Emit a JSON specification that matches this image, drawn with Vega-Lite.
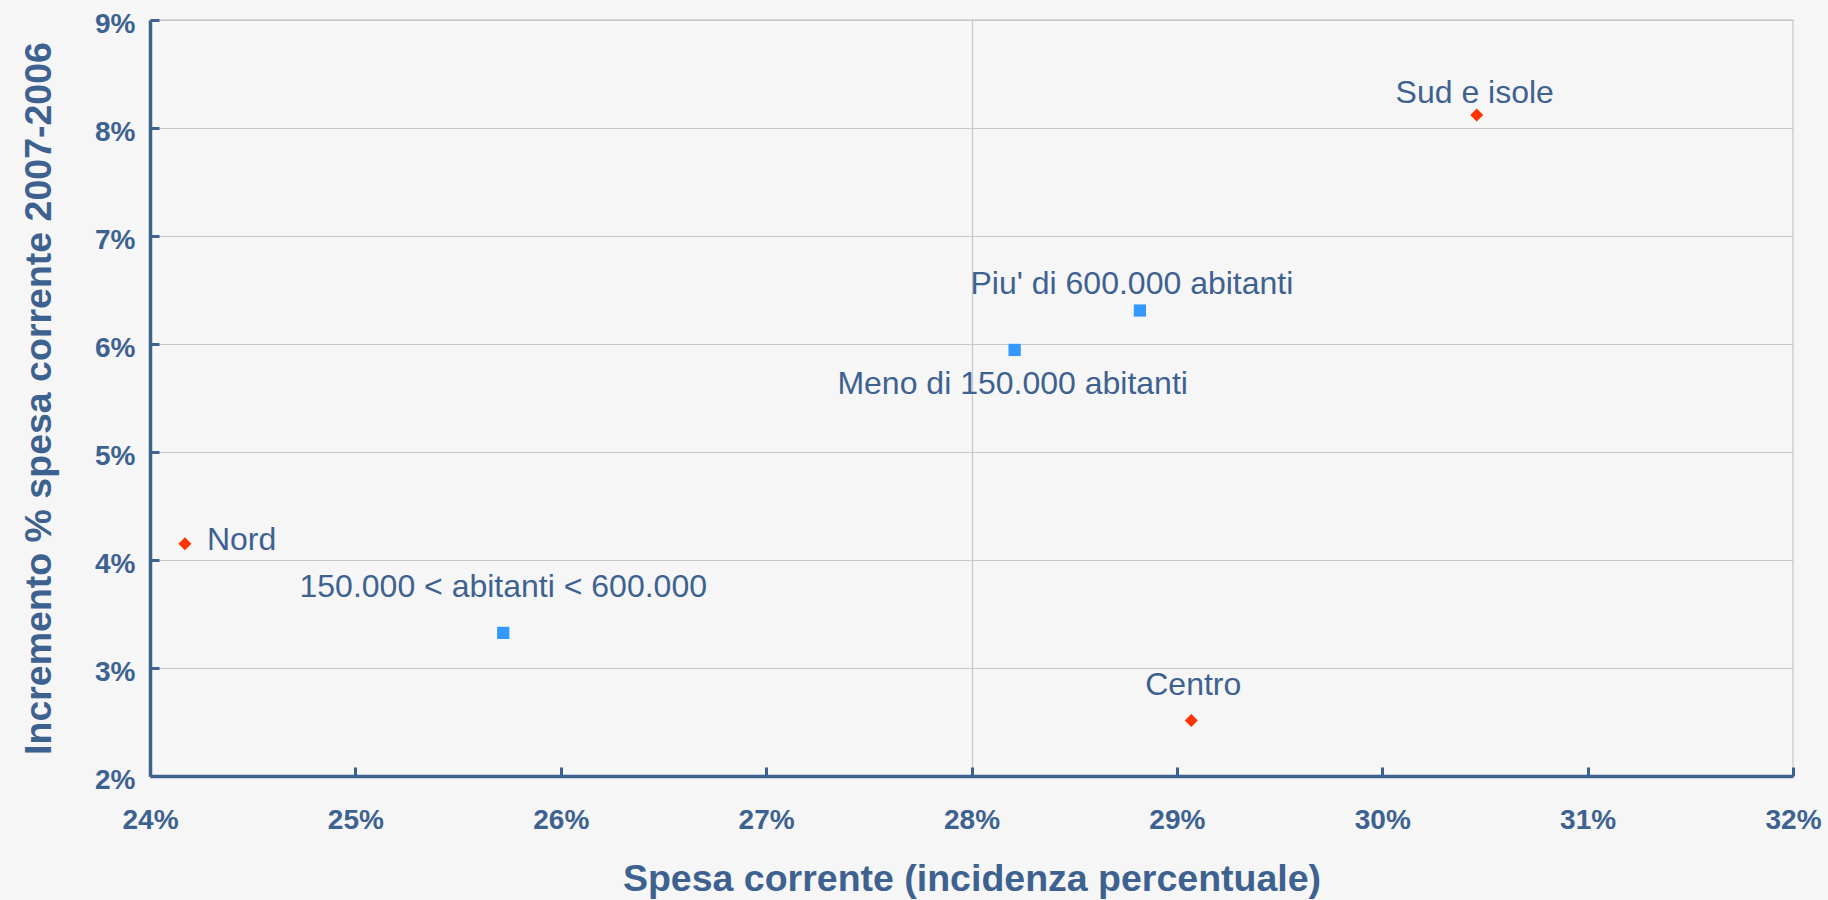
{
  "$schema": "https://vega.github.io/schema/vega-lite/v6.json",
  "width": 1643,
  "height": 756,
  "autosize": {"type": "none"},
  "padding": {"left": 150, "top": 20, "right": 35, "bottom": 124},
  "background": "#f6f6f6",
  "config": {
    "view": {"stroke": "#cfcfcf", "strokeWidth": 1.5},
    "font": "Liberation Sans"
  },
  "data": {
    "values": [
      {"name": "Nord", "spesa": 24.17, "incremento": 4.15, "gruppo": "Area"},
      {"name": "Centro", "spesa": 29.07, "incremento": 2.515, "gruppo": "Area"},
      {"name": "Sud e isole", "spesa": 30.46, "incremento": 8.12, "gruppo": "Area"},
      {"name": "150.000 < abitanti < 600.000", "spesa": 25.72, "incremento": 3.325, "gruppo": "Dimensione"},
      {"name": "Piu' di  600.000 abitanti", "spesa": 28.82, "incremento": 6.31, "gruppo": "Dimensione"},
      {"name": "Meno di 150.000 abitanti", "spesa": 28.21, "incremento": 5.945, "gruppo": "Dimensione"}
    ]
  },
  "encoding": {
    "x": {
      "field": "spesa",
      "type": "quantitative",
      "scale": {"domain": [24, 32], "nice": false, "zero": false},
      "axis": {
        "values": [24, 25, 26, 27, 28, 29, 30, 31, 32],
        "labelExpr": "datum.value + '%'",
        "labelFlush": false,
        "labelOverlap": false,
        "domainColor": "#3E6290",
        "domainWidth": 3.5,
        "tickColor": "#3E6290",
        "tickWidth": 3,
        "tickSize": -9,
        "labelFont": "Liberation Sans",
        "labelFontWeight": "bold",
        "labelFontSize": 28,
        "labelColor": "#3E6290",
        "labelPadding": 39,
        "grid": true,
        "gridColor": "#c8c8c8",
        "gridWidth": 1.2,
        "gridOpacity": {"condition": {"test": "datum.value === 28", "value": 1}, "value": 0},
        "title": "Spesa corrente (incidenza percentuale)",
        "titleFont": "Liberation Sans",
        "titleFontWeight": "bold",
        "titleFontSize": 37.5,
        "titleColor": "#3E6290",
        "titlePadding": 26
      }
    },
    "y": {
      "field": "incremento",
      "type": "quantitative",
      "scale": {"domain": [2, 9], "nice": false, "zero": false},
      "axis": {
        "values": [2, 3, 4, 5, 6, 7, 8, 9],
        "labelExpr": "datum.value + '%'",
        "labelFlush": false,
        "labelOverlap": false,
        "domainColor": "#3E6290",
        "domainWidth": 3.5,
        "tickColor": "#3E6290",
        "tickWidth": 3,
        "tickSize": -9,
        "labelFont": "Liberation Sans",
        "labelFontWeight": "bold",
        "labelFontSize": 28,
        "labelColor": "#3E6290",
        "labelPadding": 24,
        "labelOffset": 4,
        "grid": true,
        "gridColor": "#c8c8c8",
        "gridWidth": 1.2,
        "title": "Incremento % spesa corrente 2007-2006",
        "titleFont": "Liberation Sans",
        "titleFontWeight": "bold",
        "titleFontSize": 37.5,
        "titleColor": "#3E6290",
        "titlePadding": 36
      }
    }
  },
  "layer": [
    {
      "transform": [{"filter": {"field": "gruppo", "equal": "Area"}}],
      "mark": {"type": "point", "shape": "diamond", "filled": true, "opacity": 1, "color": "#ff3300", "size": 169}
    },
    {
      "transform": [{"filter": {"field": "gruppo", "equal": "Dimensione"}}],
      "mark": {"type": "point", "shape": "square", "filled": true, "opacity": 1, "color": "#3399ff", "size": 150}
    },
    {
      "transform": [{"filter": {"field": "name", "equal": "Nord"}}],
      "mark": {"type": "text", "fontSize": 32, "color": "#3E6290", "align": "left", "baseline": "alphabetic", "dx": 22, "dy": 6},
      "encoding": {"text": {"field": "name"}}
    },
    {
      "transform": [{"filter": {"field": "name", "equal": "Sud e isole"}}],
      "mark": {"type": "text", "fontSize": 32, "color": "#3E6290", "align": "center", "baseline": "alphabetic", "dx": -2, "dy": -12},
      "encoding": {"text": {"field": "name"}}
    },
    {
      "transform": [{"filter": {"field": "name", "equal": "Centro"}}],
      "mark": {"type": "text", "fontSize": 32, "color": "#3E6290", "align": "center", "baseline": "alphabetic", "dx": 2, "dy": -25},
      "encoding": {"text": {"field": "name"}}
    },
    {
      "transform": [{"filter": {"field": "name", "equal": "150.000 < abitanti < 600.000"}}],
      "mark": {"type": "text", "fontSize": 32, "color": "#3E6290", "align": "center", "baseline": "alphabetic", "dx": 0, "dy": -36},
      "encoding": {"text": {"field": "name"}}
    },
    {
      "transform": [{"filter": {"field": "name", "equal": "Piu' di  600.000 abitanti"}}],
      "mark": {"type": "text", "fontSize": 32, "color": "#3E6290", "align": "center", "baseline": "alphabetic", "dx": -8, "dy": -17},
      "encoding": {"text": {"field": "name"}}
    },
    {
      "transform": [{"filter": {"field": "name", "equal": "Meno di 150.000 abitanti"}}],
      "mark": {"type": "text", "fontSize": 32, "color": "#3E6290", "align": "center", "baseline": "alphabetic", "dx": -2, "dy": 44},
      "encoding": {"text": {"field": "name"}}
    }
  ]
}
